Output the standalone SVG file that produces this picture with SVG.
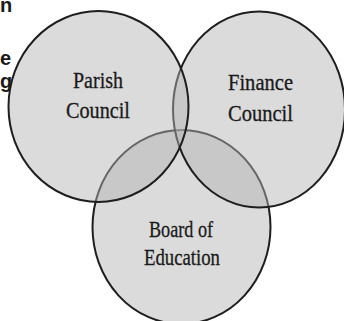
<svg xmlns="http://www.w3.org/2000/svg" width="344" height="321" viewBox="0 0 344 321">
<style>
.c{fill:#b4b4b4;fill-opacity:0.48;stroke:#1e1e1e;stroke-width:2}
.t{font-family:"Liberation Serif","Times New Roman",serif;font-size:23px;fill:#1a1a1a;stroke:#1a1a1a;stroke-width:0.3;text-anchor:middle}
.f{font-family:"Liberation Sans",Arial,sans-serif;font-size:20px;font-weight:bold;fill:#1a1a1a}
</style>
<rect width="344" height="321" fill="#fff"/>
<g id="fragments">
<text class="f" x="0" y="12">n</text>
<text class="f" x="0" y="65">e</text>
<text class="f" x="0" y="88">g</text>
</g>
<g id="board">
<ellipse class="c" cx="181.5" cy="227" rx="89" ry="97"/>
<text class="t" x="181" y="237" textLength="64" lengthAdjust="spacingAndGlyphs">Board of</text>
<text class="t" x="182" y="265" textLength="76" lengthAdjust="spacingAndGlyphs">Education</text>
</g>
<g id="finance">
<ellipse class="c" cx="259" cy="109.5" rx="86" ry="98"/>
<text class="t" x="260.5" y="90" textLength="65" lengthAdjust="spacingAndGlyphs">Finance</text>
<text class="t" x="260.5" y="120.5" textLength="65" lengthAdjust="spacingAndGlyphs">Council</text>
</g>
<g id="parish">
<ellipse class="c" cx="98.5" cy="106.5" rx="90" ry="95.5"/>
<text class="t" x="98" y="88" textLength="50" lengthAdjust="spacingAndGlyphs">Parish</text>
<text class="t" x="98" y="118" textLength="64" lengthAdjust="spacingAndGlyphs">Council</text>
</g>
</svg>
